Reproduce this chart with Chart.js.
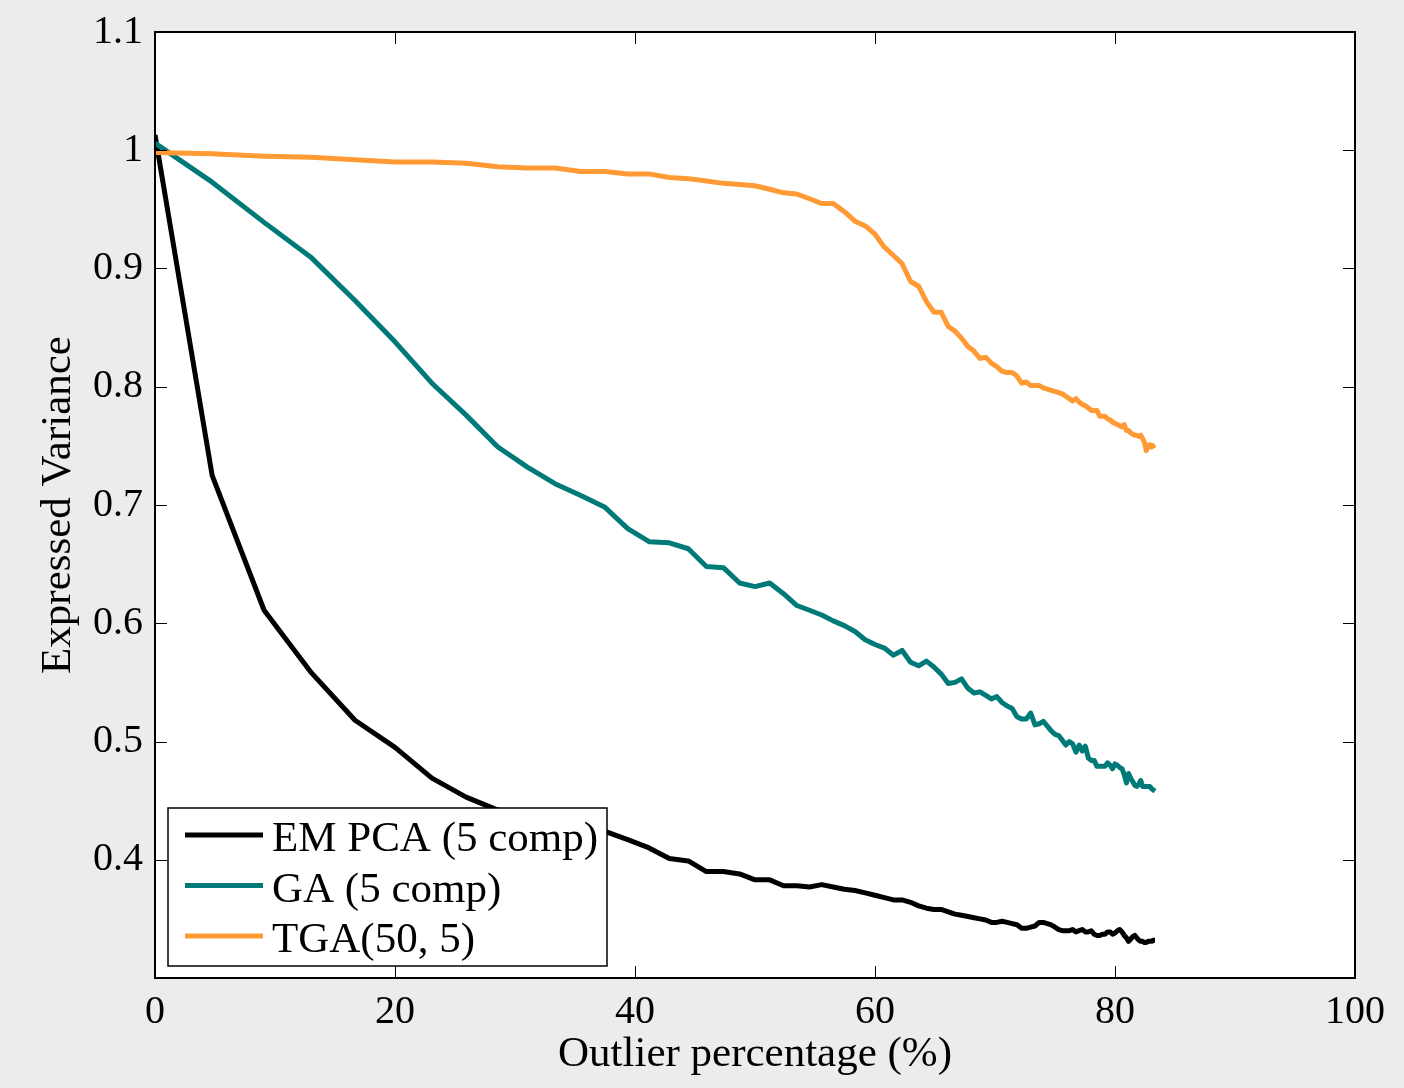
<!DOCTYPE html>
<html>
<head>
<meta charset="utf-8">
<script src="https://cdn.jsdelivr.net/npm/chart.js@4.4.1/dist/chart.umd.min.js"></script>
<style>
  html, body { margin: 0; padding: 0; background: #ececec; }
  #wrap { width: 1404px; height: 1088px; position: relative; }
</style>
</head>
<body>
<div id="wrap"><canvas id="c"></canvas></div>
<script>
// Outlier percentage (x) for each sample
const outlierPct = [
  0, 4.762, 9.091, 13.043, 16.667, 20, 23.077, 25.926, 28.571, 31.034,
  33.333, 35.484, 37.5, 39.394, 41.176, 42.857, 44.444, 45.946, 47.368, 48.718,
  50, 51.22, 52.381, 53.488, 54.545, 55.556, 56.522, 57.447, 58.333, 59.184,
  60, 60.784, 61.538, 62.264, 62.963, 63.636, 64.286, 64.912, 65.517, 66.102,
  66.667, 67.213, 67.742, 68.254, 68.75, 69.231, 69.697, 70.149, 70.588, 71.014,
  71.429, 71.831, 72.222, 72.603, 72.973, 73.333, 73.684, 74.026, 74.359, 74.684,
  75, 75.309, 75.61, 75.904, 76.19, 76.471, 76.744, 77.011, 77.273, 77.528,
  77.778, 78.022, 78.261, 78.495, 78.723, 78.947, 79.167, 79.381, 79.592, 79.798,
  80, 80.198, 80.392, 80.583, 80.769, 80.952, 81.132, 81.308, 81.481, 81.651,
  81.818, 81.982, 82.143, 82.301, 82.456, 82.609, 82.759, 82.906, 83.051, 83.193,
  83.333
];

const emPca = [
  1.013, 0.725, 0.611, 0.558, 0.518, 0.495, 0.469, 0.453, 0.442, 0.438,
  0.434, 0.429, 0.424, 0.417, 0.410, 0.401, 0.399, 0.390, 0.390, 0.388,
  0.383, 0.383, 0.378, 0.378, 0.377, 0.379, 0.377, 0.375, 0.374, 0.372,
  0.370, 0.368, 0.366, 0.366, 0.364, 0.361, 0.359, 0.358, 0.358, 0.356,
  0.354, 0.353, 0.352, 0.351, 0.350, 0.349, 0.347, 0.347, 0.348, 0.347,
  0.346, 0.345, 0.342, 0.342, 0.343, 0.344, 0.347, 0.347, 0.346, 0.345,
  0.343, 0.341, 0.340, 0.340, 0.340, 0.341, 0.339, 0.340, 0.341, 0.339,
  0.339, 0.340, 0.337, 0.336, 0.336, 0.337, 0.337, 0.339, 0.339, 0.337,
  0.338, 0.340, 0.341, 0.339, 0.336, 0.334, 0.331, 0.333, 0.335, 0.336,
  0.334, 0.332, 0.331, 0.331, 0.330, 0.330, 0.331, 0.331, 0.331, 0.332,
  0.332
];

const ga = [
  1.006, 0.973, 0.939, 0.909, 0.873, 0.838, 0.803, 0.776, 0.749, 0.732,
  0.718, 0.708, 0.698, 0.680, 0.669, 0.668, 0.663, 0.648, 0.647, 0.634,
  0.631, 0.634, 0.625, 0.615, 0.611, 0.607, 0.602, 0.598, 0.593, 0.586,
  0.582, 0.579, 0.573, 0.577, 0.567, 0.564, 0.568, 0.563, 0.557, 0.549,
  0.550, 0.553, 0.545, 0.541, 0.542, 0.539, 0.536, 0.538, 0.533, 0.530,
  0.528, 0.521, 0.519, 0.519, 0.524, 0.514, 0.515, 0.517, 0.513, 0.509,
  0.506, 0.505, 0.501, 0.497, 0.500, 0.498, 0.491, 0.497, 0.492, 0.496,
  0.486, 0.484, 0.484, 0.479, 0.479, 0.479, 0.479, 0.482, 0.480, 0.477,
  0.481, 0.480, 0.478, 0.477, 0.472, 0.465, 0.473, 0.469, 0.466, 0.463,
  0.462, 0.464, 0.467, 0.462, 0.462, 0.462, 0.462, 0.462, 0.460, 0.459,
  0.458
];

const tga = [
  0.998, 0.997, 0.995, 0.994, 0.992, 0.990, 0.990, 0.989, 0.986, 0.985,
  0.985, 0.982, 0.982, 0.980, 0.980, 0.977, 0.976, 0.974, 0.972, 0.971,
  0.970, 0.967, 0.964, 0.963, 0.959, 0.955, 0.955, 0.948, 0.940, 0.936,
  0.929, 0.918, 0.911, 0.904, 0.889, 0.885, 0.872, 0.863, 0.863, 0.851,
  0.847, 0.841, 0.834, 0.830, 0.824, 0.825, 0.820, 0.817, 0.813, 0.812,
  0.812, 0.809, 0.803, 0.804, 0.801, 0.801, 0.801, 0.799, 0.798, 0.797,
  0.796, 0.795, 0.794, 0.792, 0.790, 0.788, 0.790, 0.787, 0.785, 0.784,
  0.782, 0.780, 0.780, 0.780, 0.775, 0.775, 0.775, 0.773, 0.772, 0.770,
  0.769, 0.768, 0.767, 0.766, 0.768, 0.763, 0.763, 0.761, 0.760, 0.759,
  0.759, 0.758, 0.759, 0.756, 0.753, 0.746, 0.750, 0.751, 0.749, 0.750,
  0.751
];

const seriesLabels = ['EM PCA (5 comp)', 'GA (5 comp)', 'TGA(50, 5)'];
const xTickValues = [0, 20, 40, 60, 80, 100];
const yTickValues = [0.4, 0.5, 0.6, 0.7, 0.8, 0.9, 1.0, 1.1];
const xTitle = 'Outlier percentage (%)';
const yTitle = 'Expressed Variance';

const FONT = '"Liberation Serif", "Times New Roman", serif';
const colors = ['#000000', '#007a78', '#ff9a35'];

function toPoints(ys) { return ys.map((v, i) => ({ x: outlierPct[i], y: v })); }

const frame = {
  id: 'frame',
  beforeDraw(chart) {
    const { ctx, chartArea: a } = chart;
    ctx.save();
    ctx.fillStyle = '#ffffff';
    ctx.fillRect(a.left, a.top, a.right - a.left, a.bottom - a.top);
    ctx.restore();
  },
  afterDraw(chart) {
    const { ctx, chartArea: a, scales } = chart;
    const x = scales.x, y = scales.y;
    const L = 12;
    ctx.save();
    ctx.strokeStyle = '#000';
    ctx.lineWidth = 1;
    ctx.beginPath();
    x.ticks.forEach(t => {
      const px = Math.round(x.getPixelForValue(t.value)) + 0.5;
      ctx.moveTo(px, a.bottom); ctx.lineTo(px, a.bottom - L);
      ctx.moveTo(px, a.top); ctx.lineTo(px, a.top + L);
    });
    y.ticks.forEach(t => {
      const py = Math.round(y.getPixelForValue(t.value)) + 0.5;
      ctx.moveTo(a.left, py); ctx.lineTo(a.left + L, py);
      ctx.moveTo(a.right, py); ctx.lineTo(a.right - L, py);
    });
    ctx.stroke();
    ctx.lineWidth = 2;
    ctx.strokeRect(a.left, a.top, a.right - a.left, a.bottom - a.top);

    // legend box (bottom-left inside axes)
    const lx = a.left + 13, w = 439, h = 158;
    const ly = a.bottom - 12 - h;
    ctx.fillStyle = '#ffffff';
    ctx.fillRect(lx, ly, w, h);
    ctx.lineWidth = 1.5;
    ctx.strokeStyle = '#000';
    ctx.strokeRect(lx, ly, w, h);
    ctx.font = '43px ' + FONT;
    ctx.textAlign = 'left';
    ctx.textBaseline = 'alphabetic';
    chart.data.datasets.forEach((ds, i) => {
      const yy = ly + 27 + i * 50.5;
      ctx.strokeStyle = ds.borderColor;
      ctx.lineWidth = 5;
      ctx.beginPath();
      ctx.moveTo(lx + 17, yy); ctx.lineTo(lx + 95, yy);
      ctx.stroke();
      ctx.fillStyle = '#000';
      ctx.fillText(ds.label, lx + 104, yy + 16);
    });
    ctx.restore();
  }
};

new Chart(document.getElementById('c'), {
  type: 'line',
  data: {
    datasets: [
      { label: seriesLabels[0], data: toPoints(emPca), borderColor: colors[0], order: 3 },
      { label: seriesLabels[1], data: toPoints(ga), borderColor: colors[1], order: 2 },
      { label: seriesLabels[2], data: toPoints(tga), borderColor: colors[2], order: 1 }
    ].map(d => Object.assign(d, { borderWidth: 5, pointRadius: 0, tension: 0, fill: false, borderJoinStyle: 'round', borderCapStyle: 'butt' }))
  },
  options: {
    responsive: true,
    maintainAspectRatio: false,
    devicePixelRatio: 1,
    animation: false,
    layout: { padding: { left: 0, top: 32, right: 49, bottom: 0 } },
    plugins: { legend: { display: false }, tooltip: { enabled: false } },
    scales: {
      x: {
        type: 'linear', min: 0, max: 100,
        afterBuildTicks(s) { s.ticks = xTickValues.map(v => ({ value: v })); },
        afterFit(s) { s.height = 110; s.paddingLeft = 0; s.paddingRight = 0; },
        grid: { display: false, drawTicks: false },
        border: { display: false },
        ticks: { padding: 10, color: '#000', font: { family: FONT, size: 40 }, callback: v => String(v) },
        title: { display: true, text: xTitle, color: '#000', font: { family: FONT, size: 43 }, padding: { top: 0, bottom: 7 } }
      },
      y: {
        type: 'linear', min: 0.3, max: 1.1,
        afterBuildTicks(s) { s.ticks = yTickValues.map(v => ({ value: v })); },
        afterFit(s) { s.width = 155; s.paddingTop = 0; s.paddingBottom = 0; },
        grid: { display: false, drawTicks: false },
        border: { display: false },
        ticks: { padding: 12, color: '#000', font: { family: FONT, size: 40 }, callback: v => String(Math.round(v * 10) / 10) },
        title: { display: true, text: yTitle, color: '#000', font: { family: FONT, size: 43 }, padding: { top: 33, bottom: 0 } }
      }
    }
  },
  plugins: [frame]
});
</script>
</body>
</html>
